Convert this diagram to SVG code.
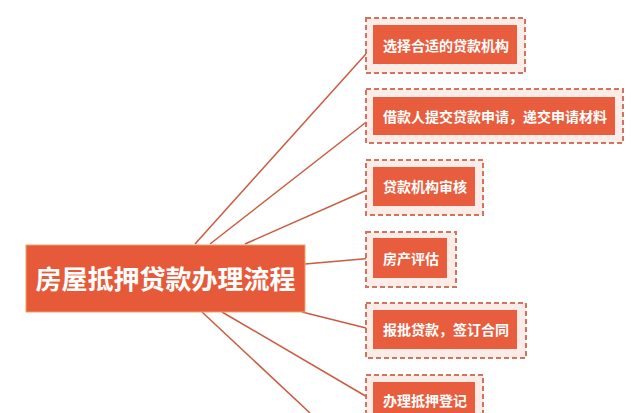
<svg xmlns="http://www.w3.org/2000/svg" width="640" height="413" viewBox="0 0 640 413">
<style>
.bg{fill:#ffffff}
.edge{stroke:#cc5a40;stroke-width:1.5;fill:none}
.outer{fill:#fbece8;stroke:#d2735f;stroke-width:2;stroke-dasharray:5,3}
.inner{fill:#e85d3d}
.root{fill:#e65a3a;stroke:#e8a36a;stroke-width:1}
.t{font-family:"Noto Sans CJK SC","Noto Sans",sans-serif;font-weight:bold;fill:#ffffff;dominant-baseline:central}
.ts{font-size:14px}
.tr{font-size:26px}
</style>
<rect class="bg" x="0" y="0" width="640" height="413"/>
<g id="connectors">
<line class="edge" x1="195" y1="244" x2="374" y2="45"/>
<line class="edge" x1="210" y1="244" x2="374" y2="116"/>
<line class="edge" x1="245" y1="244" x2="374" y2="187"/>
<line class="edge" x1="305" y1="264" x2="374" y2="258"/>
<line class="edge" x1="302" y1="312" x2="374" y2="330"/>
<line class="edge" x1="222" y1="312" x2="374" y2="401"/>
<line class="edge" x1="202" y1="312" x2="310" y2="413"/>
</g>
<g id="root">
<rect class="root" x="26" y="245" width="279" height="67"/>
<text class="t tr" x="165.5" y="277" text-anchor="middle">房屋抵押贷款办理流程</text>
</g>
<g id="n1">
<rect class="outer" x="366" y="18" width="159" height="55"/>
<rect class="inner" x="373" y="25" width="144" height="39"/>
<text class="t ts" x="383" y="44.5">选择合适的贷款机构</text>
</g>
<g id="n2">
<rect class="outer" x="366" y="89" width="257" height="54"/>
<rect class="inner" x="373" y="97" width="242" height="38"/>
<text class="t ts" x="383" y="116">借款人提交贷款申请，递交申请材料</text>
</g>
<g id="n3">
<rect class="outer" x="366" y="160" width="117" height="55"/>
<rect class="inner" x="373" y="167" width="102" height="39"/>
<text class="t ts" x="383" y="186">贷款机构审核</text>
</g>
<g id="n4">
<rect class="outer" x="366" y="232" width="90" height="55"/>
<rect class="inner" x="373" y="238" width="74" height="40"/>
<text class="t ts" x="383" y="257.5">房产评估</text>
</g>
<g id="n5">
<rect class="outer" x="366" y="303" width="160" height="55"/>
<rect class="inner" x="373" y="310" width="144" height="39"/>
<text class="t ts" x="383" y="329">报批贷款，签订合同</text>
</g>
<g id="n6">
<rect class="outer" x="366" y="375" width="117" height="55"/>
<rect class="inner" x="373" y="382" width="102" height="39"/>
<text class="t ts" x="383" y="400">办理抵押登记</text>
</g>
</svg>
